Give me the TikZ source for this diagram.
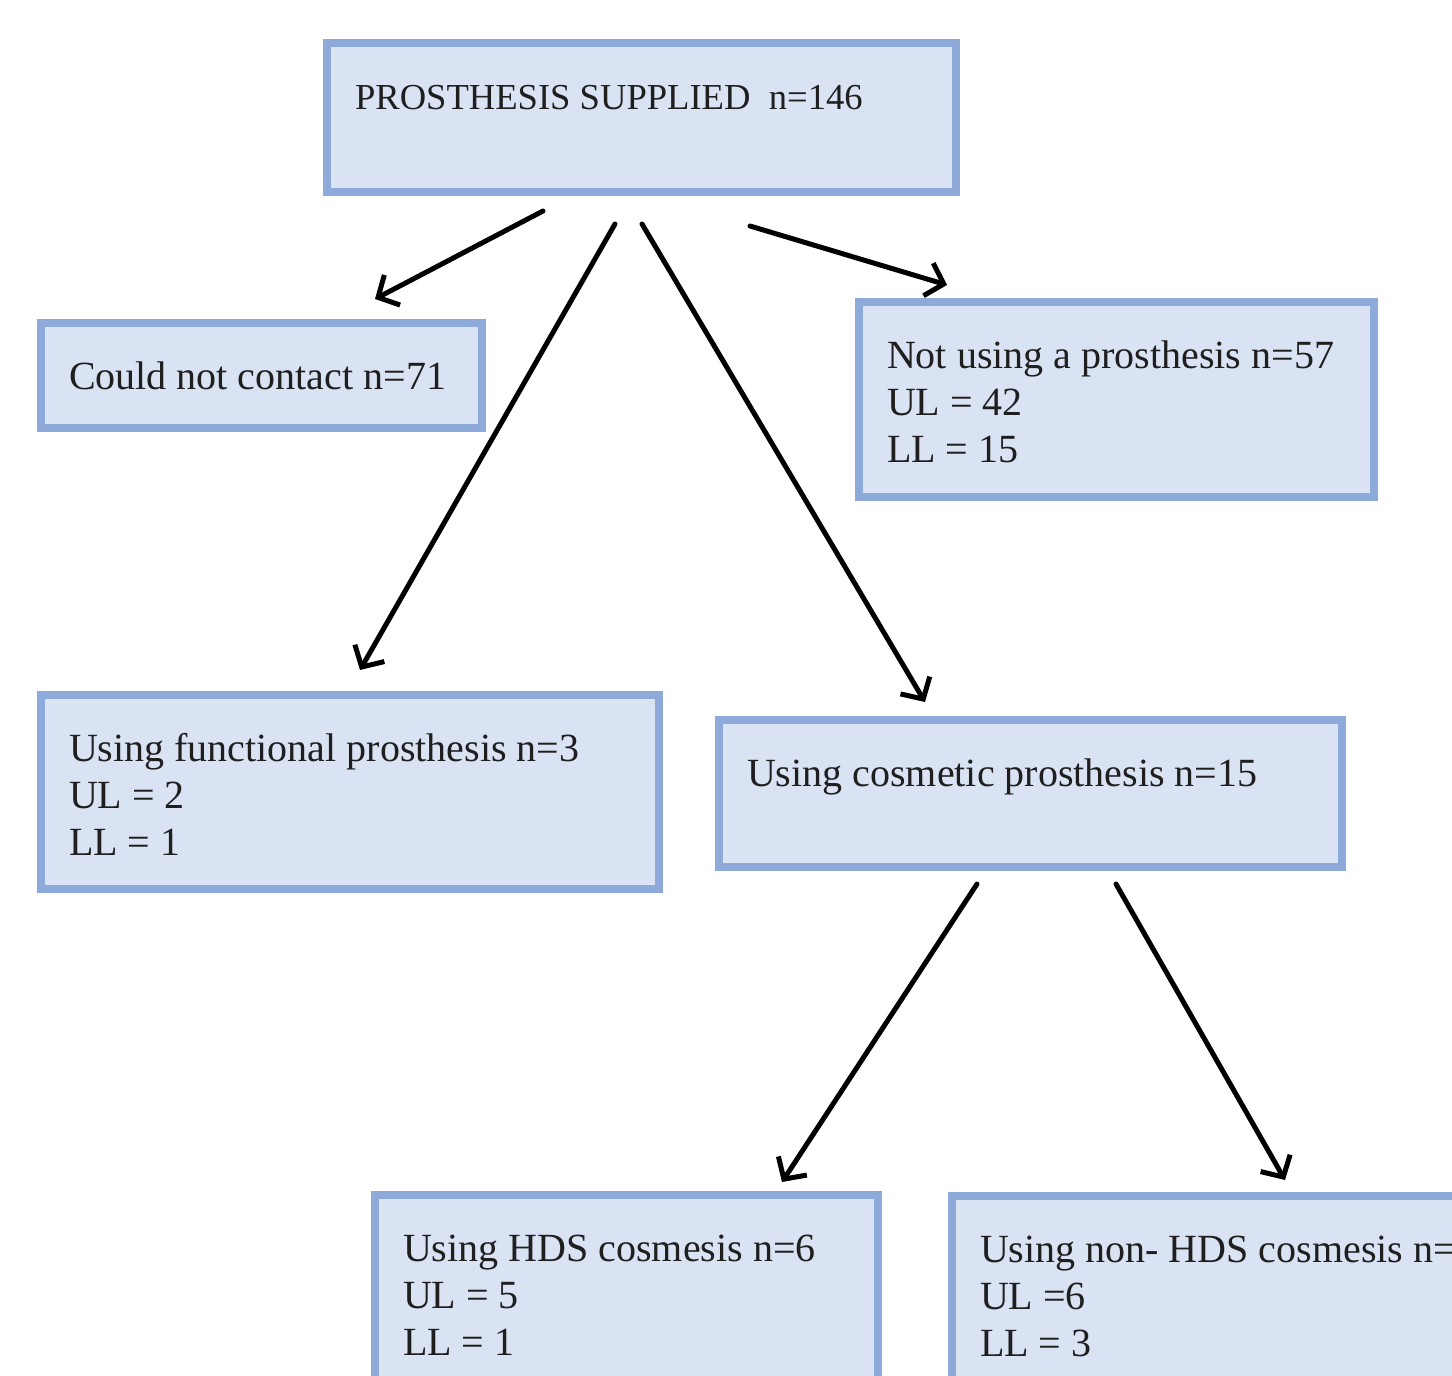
\documentclass[tikz,border=0pt]{standalone}
\usepackage{fontspec}
\setmainfont{Liberation Serif}
\usetikzlibrary{arrows.meta}
\definecolor{boxline}{HTML}{8EAADB}
\definecolor{boxfill}{HTML}{DAE3F3}
\tikzset{box/.style 2 args={shape=rectangle, draw=boxline, fill=boxfill,
  line width=4.2pt, anchor=north west, align=left, inner xsep=14pt,
  inner ysep=0pt, outer sep=0pt, text height=33pt, text width=#1,
  text depth=#2, font=\fontsize{20}{23.6}\selectfont, text=black!88,
  execute at begin node={\spaceskip=0.25em plus 0.1em\relax}},
  link/.style={->, line width=2.5pt, line cap=round}}

\begin{document}
\begin{tikzpicture}[x=0.5pt, y=-0.5pt, >={Straight Barb[length=8pt, width=17pt]}]
    \useasboundingbox (0,0) rectangle (1452,1376);
    \clip (0,0) rectangle (1452,1376);
    \node [box={286.5pt}{41.5pt}, font=\fontsize{18.3}{23.6}\selectfont]
        (supplied) at (327,43) {PROSTHESIS SUPPLIED\ \ n=146};
    \node [box={192.5pt}{19.5pt}] (nocontact) at (41,323)
        {Could not contact n=71};
    \node [box={229.5pt}{64.5pt}] (notusing) at (859,302)
        {Not using a prosthesis n=57\\UL = 42\\LL = 15};
    \node [box={281pt}{64pt}] (functional) at (41,695)
        {Using functional prosthesis n=3\\UL = 2\\LL = 1};
    \node [box={283.5pt}{40.5pt}] (cosmetic) at (719,720)
        {Using cosmetic prosthesis n=15};
    \node [box={223.5pt}{79.5pt}] (hds) at (375,1195)
        {Using HDS cosmesis n=6\\UL = 5\\LL = 1};
    \node [box={276pt}{79.5pt}] (nonhds) at (952,1196)
        {Using non- HDS cosmesis n=9\\UL =6\\LL = 3};
    % arrows stand free of the boxes
    \foreach \sx/\sy/\ex/\ey [count=\i] in {543/211/375/299, 615/224/360/670,
        642/224/925/702, 750/226/947/285, 977/884/782/1182, 1116/884/1285/1180}{
            \coordinate (s-\i) at (\sx,\sy);
            \coordinate (e-\i) at (\ex,\ey);
            \draw [link] (s-\i) -- (e-\i);
        }
\end{tikzpicture}
\end{document}
